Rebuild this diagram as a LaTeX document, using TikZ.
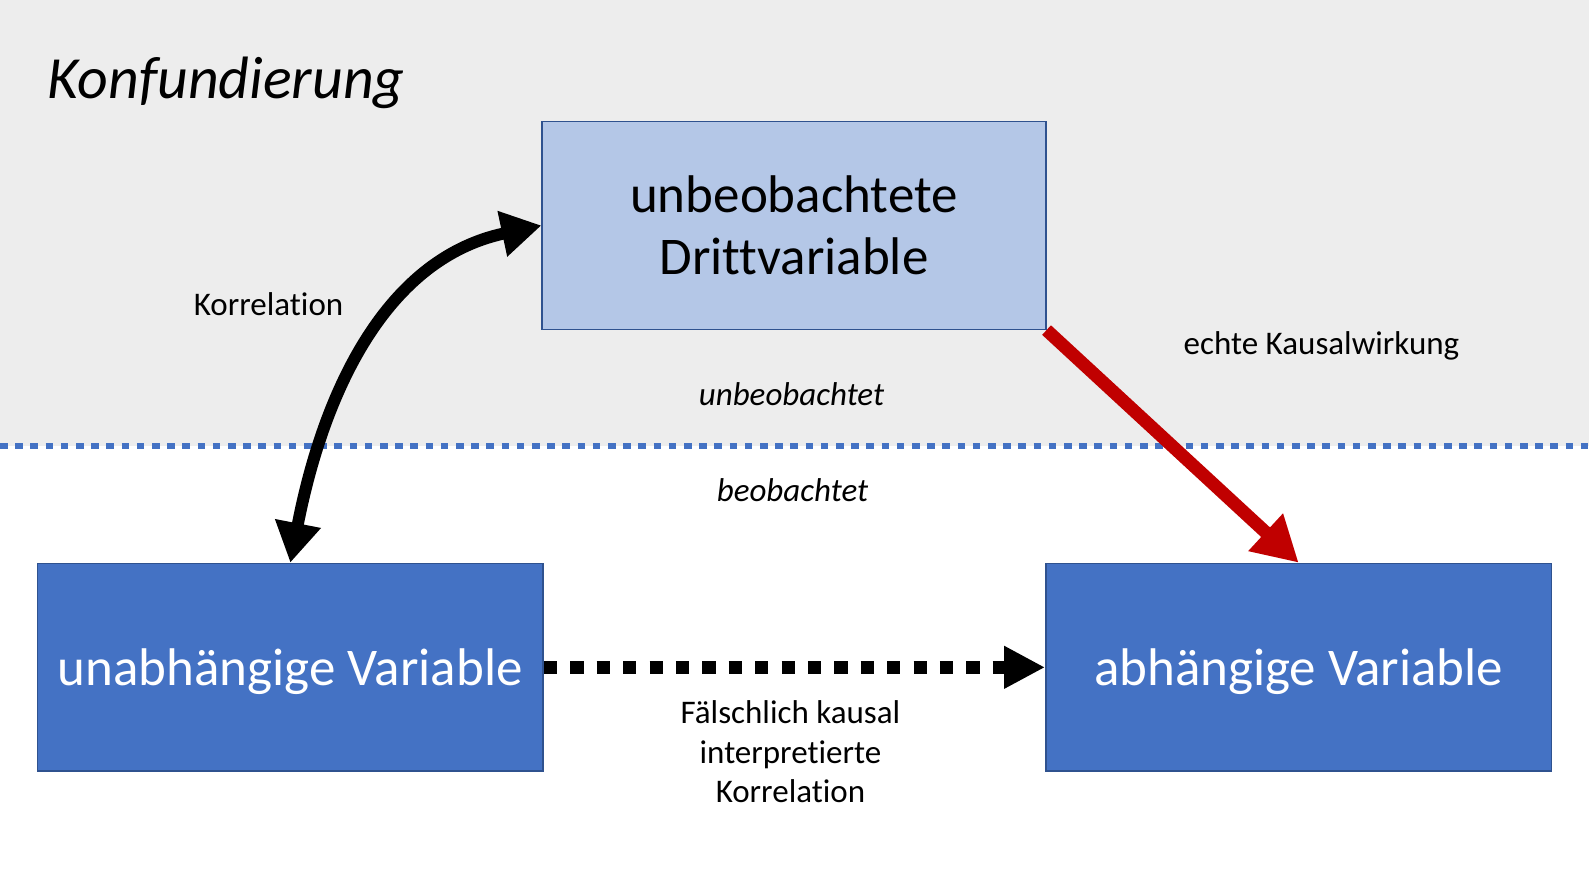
\documentclass[tikz,border=0pt]{standalone}
\usepackage{fontspec}
\setmainfont{Carlito}[Ligatures=CommonOff]
\usetikzlibrary{arrows.meta}
\definecolor{bggrey}{HTML}{EDEDED}
\definecolor{accent}{HTML}{4472C4}
\definecolor{lightacc}{HTML}{B4C7E7}
\definecolor{borderblue}{HTML}{2F528F}
\definecolor{darkred}{HTML}{C00000}
\begin{document}
\begin{tikzpicture}[x=1.0134pt,y=-1.0134pt,
  box/.style={draw=borderblue, line width=1.5pt, minimum height=207.7pt, inner sep=0pt, align=center, font=\fontsize{53}{62}\selectfont},
  topbox/.style={box, fill=lightacc, minimum width=503.6pt, text=black, text depth=-6pt},
  varbox/.style={box, fill=accent, minimum width=505.7pt, text=white, text depth=1pt},
  lbl/.style={inner sep=0pt, align=center, font=\fontsize{33}{39.5}\selectfont},
  ilbl/.style={lbl, font=\fontsize{33}{39.5}\selectfont\itshape},
  corrarrow/.style={line width=12pt, {Triangle[length=40pt,width=44pt]}-{Triangle[length=40pt,width=44pt]}},
  causearrow/.style={draw=darkred, line width=13pt, -{Triangle[length=45pt,width=48pt]}},
  falsearrow/.style={line width=12.5pt, dash pattern=on 13.2pt off 13.2pt, -{Triangle[length=41pt,width=40pt]}},
  divider/.style={draw=accent, line width=6.5pt, dash pattern=on 7.6pt off 7.6pt}
]
\useasboundingbox (0,0) rectangle (1568,882.2);
\fill[white] (0,0) rectangle (1568,882.2);
\fill[bggrey] (0,0) rectangle (1568,440);
\coordinate (dl) at (0,440);
\coordinate (dr) at (1568,440);
\draw[divider] (dl) -- (dr);

\node[ilbl, anchor=base west, font=\fontsize{59.8}{70}\selectfont\itshape] (title) at (47,97) {Konfundierung};

\node[topbox] (tb) at (783.5,222.5) {unbeobachtete\\Drittvariable};
\node[varbox] (lv) at (286.5,658.5) {unabhängige Variable};
\node[varbox] (rv) at (1281.5,658.5) {abhängige Variable};

\node[lbl, anchor=base] (korr) at (265,311) {Korrelation};
\node[lbl, anchor=base] (echt) at (1304,350) {echte Kausalwirkung};
\node[ilbl, anchor=base] (unb) at (781,400) {unbeobachtet};
\node[ilbl, anchor=base] (beob) at (782,495) {beobachtet};
\node[lbl] (fals) at (780,742) {Fälschlich kausal\\interpretierte\\Korrelation};

\draw[corrarrow] (lv.north) to[out=79, in=192, looseness=1.0] (tb.west);
\draw[causearrow] (tb.south east) -- (rv.north);
\draw[falsearrow] (lv.east) -- (rv.west);
\end{tikzpicture}
\end{document}
